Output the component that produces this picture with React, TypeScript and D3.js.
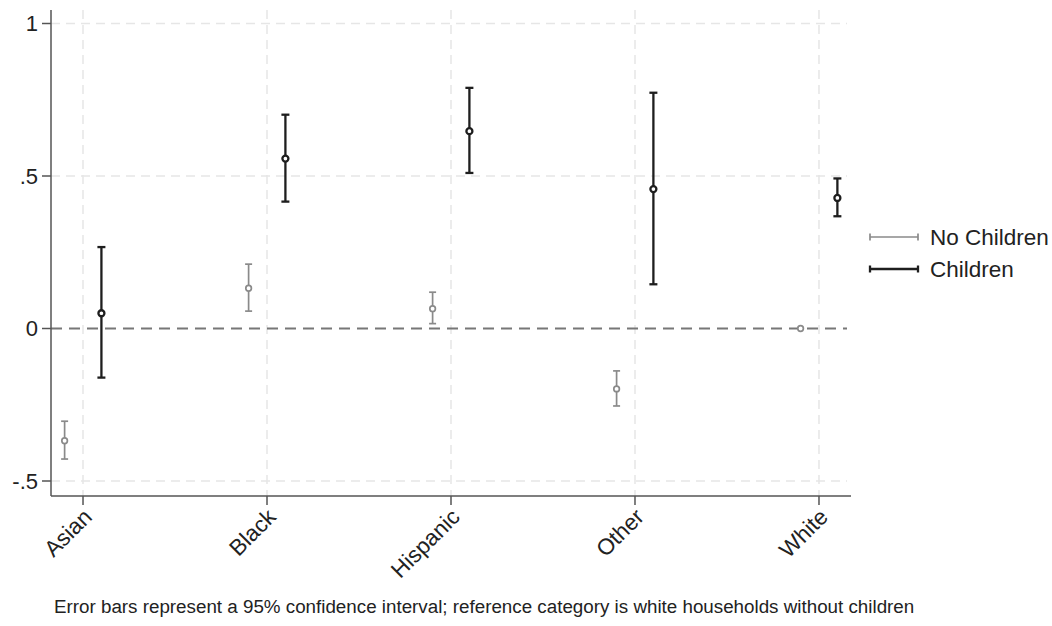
import { useEffect, useRef } from "react";
import * as d3 from "d3";

const categories = ["Asian", "Black", "Hispanic", "Other", "White"];

// No Children series: estimate, lower, upper
const noChildEst = [-0.368, 0.132, 0.065, -0.198, 0];
const noChildLo = [-0.428, 0.057, 0.016, -0.254, 0];
const noChildHi = [-0.304, 0.211, 0.119, -0.139, 0];

// Children series
const childEst = [0.05, 0.557, 0.647, 0.457, 0.428];
const childLo = [-0.161, 0.416, 0.51, 0.145, 0.368];
const childHi = [0.267, 0.701, 0.789, 0.773, 0.492];

const yTicks = [-0.5, 0, 0.5, 1];
const yTickLabels = ["-.5", "0", ".5", "1"];

const legendLabels = ["No Children", "Children"];
const caption =
  "Error bars represent a 95% confidence interval; reference category is white households without children";

const App = () => {
  const container = useRef<SVGSVGElement>(null);

  useEffect(() => {
    const svg = d3.select(container.current);
    svg.selectAll("*").remove();

    const left = 51, right = 851, top = 10, bottom = 496;
    const font = "'Liberation Sans', Arial, sans-serif";

    const x = d3.scaleLinear().domain([0.826, 5.174]).range([left, right]);
    const y = d3.scaleLinear().domain([0, 1]).range([328.5, 23.5]);

    // grid
    const grid = svg.append("g");
    yTicks.filter((t) => t !== 0).forEach((t) => {
      grid.append("line")
        .attr("x1", left).attr("x2", right - 4)
        .attr("y1", y(t)).attr("y2", y(t))
        .attr("stroke", "#e6e6e6").attr("stroke-width", 1.5)
        .attr("stroke-dasharray", "9,6");
    });
    categories.forEach((c, i) => {
      grid.append("line")
        .attr("x1", x(i + 1)).attr("x2", x(i + 1))
        .attr("y1", top).attr("y2", bottom)
        .attr("stroke", "#e6e6e6").attr("stroke-width", 1.5)
        .attr("stroke-dasharray", "9,6");
    });

    // zero reference line
    svg.append("line")
      .attr("x1", left).attr("x2", right - 4)
      .attr("y1", y(0)).attr("y2", y(0))
      .attr("stroke", "#777").attr("stroke-width", 2)
      .attr("stroke-dasharray", "11,7");

    // axes
    svg.append("line")
      .attr("x1", left).attr("x2", left).attr("y1", top).attr("y2", bottom)
      .attr("stroke", "#555").attr("stroke-width", 1.5);
    svg.append("line")
      .attr("x1", left).attr("x2", right).attr("y1", bottom).attr("y2", bottom)
      .attr("stroke", "#555").attr("stroke-width", 1.5);

    yTicks.forEach((t, i) => {
      svg.append("line")
        .attr("x1", left - 9).attr("x2", left)
        .attr("y1", y(t)).attr("y2", y(t))
        .attr("stroke", "#555").attr("stroke-width", 1.5);
      svg.append("text")
        .attr("x", left - 13).attr("y", y(t))
        .attr("text-anchor", "end").attr("dominant-baseline", "central")
        .style("font-family", font).style("font-size", "22px").style("fill", "#222")
        .text(yTickLabels[i]);
    });

    categories.forEach((c, i) => {
      const cx = x(i + 1);
      svg.append("line")
        .attr("x1", cx).attr("x2", cx)
        .attr("y1", bottom).attr("y2", bottom + 9)
        .attr("stroke", "#555").attr("stroke-width", 1.5);
      svg.append("text")
        .attr("transform", `translate(${cx + 5},${bottom + 17}) rotate(-45)`)
        .attr("text-anchor", "end").attr("dominant-baseline", "central")
        .style("font-family", font).style("font-size", "22.5px").style("fill", "#222")
        .text(c);
    });

    const drawSeries = (est: number[], lo: number[], hi: number[], offset: number,
      color: string, width: number, cap: number, r: number) => {
      const g = svg.append("g");
      est.forEach((v, i) => {
        const cx = x(i + 1 + offset);
        if (hi[i] !== lo[i]) {
          g.append("line")
            .attr("x1", cx).attr("x2", cx)
            .attr("y1", y(lo[i])).attr("y2", y(hi[i]))
            .attr("stroke", color).attr("stroke-width", width);
          [lo[i], hi[i]].forEach((b) => {
            g.append("line")
              .attr("x1", cx - cap).attr("x2", cx + cap)
              .attr("y1", y(b)).attr("y2", y(b))
              .attr("stroke", color).attr("stroke-width", width);
          });
        }
        g.append("circle")
          .attr("cx", cx).attr("cy", y(v)).attr("r", r)
          .attr("fill", "white").attr("stroke", color).attr("stroke-width", width);
      });
    };

    drawSeries(noChildEst, noChildLo, noChildHi, -0.1, "#8a8a8a", 1.7, 3.5, 2.8);
    drawSeries(childEst, childLo, childHi, 0.1, "#1e1e1e", 2.3, 4, 3);

    // legend
    const legendColors = ["#8a8a8a", "#1e1e1e"];
    const legendWidths = [1.7, 2.3];
    legendLabels.forEach((l, i) => {
      const ly = 237 + i * 32;
      svg.append("line")
        .attr("x1", 870).attr("x2", 918).attr("y1", ly).attr("y2", ly)
        .attr("stroke", legendColors[i]).attr("stroke-width", legendWidths[i]);
      [870, 918].forEach((lx) => {
        svg.append("line")
          .attr("x1", lx).attr("x2", lx).attr("y1", ly - 3.5).attr("y2", ly + 3.5)
          .attr("stroke", legendColors[i]).attr("stroke-width", legendWidths[i]);
      });
      svg.append("text")
        .attr("x", 930).attr("y", ly)
        .attr("dominant-baseline", "central")
        .style("font-family", font).style("font-size", "22.5px").style("fill", "#222")
        .text(l);
    });

    svg.append("text")
      .attr("x", 54).attr("y", 613)
      .style("font-family", font).style("font-size", "18.8px").style("fill", "#222")
      .text(caption);
  }, []);

  return (
    <svg ref={container} width={1052} height={626}
      style={{ position: "absolute", left: 0, top: 0, background: "white" }} />
  );
};

export default App;
